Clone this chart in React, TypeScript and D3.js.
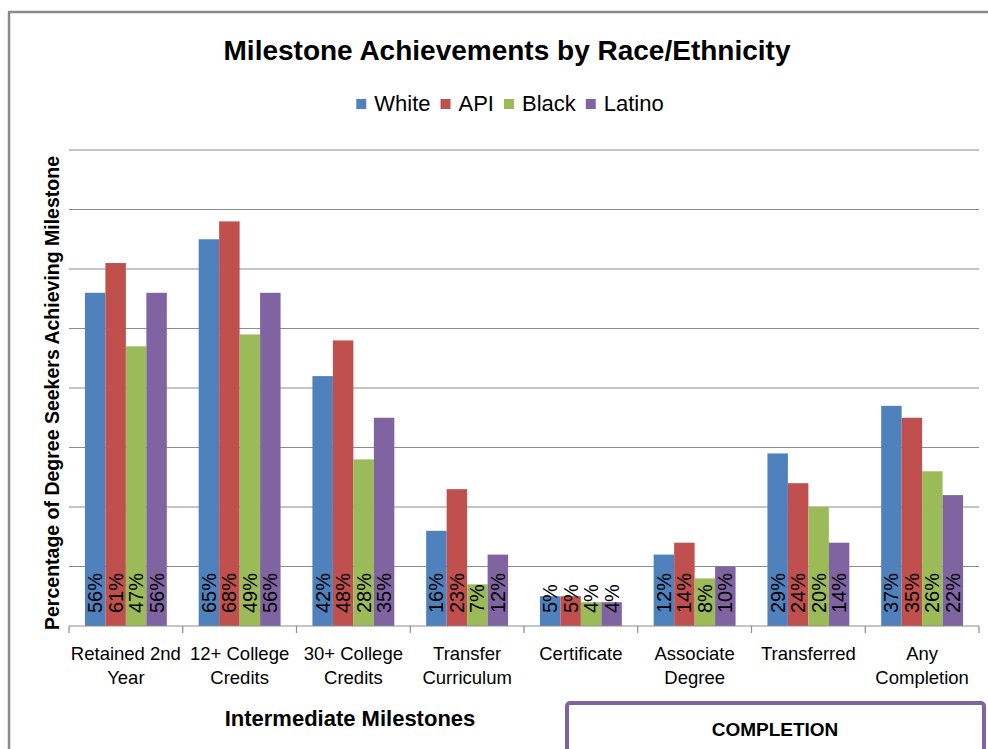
import React, { useEffect, useRef } from "react";
import * as d3 from "d3";

const categories: string[][] = [
  ["Retained 2nd", "Year"],
  ["12+ College", "Credits"],
  ["30+ College", "Credits"],
  ["Transfer", "Curriculum"],
  ["Certificate"],
  ["Associate", "Degree"],
  ["Transferred"],
  ["Any", "Completion"],
];
const seriesNames = ["White", "API", "Black", "Latino"];
const seriesColors = ["#4F81BD", "#C0504D", "#9BBB59", "#8064A2"];
const white = [56, 65, 42, 16, 5, 12, 29, 37];
const api = [61, 68, 48, 23, 5, 14, 24, 35];
const black = [47, 49, 28, 7, 4, 8, 20, 26];
const latino = [56, 56, 35, 12, 4, 10, 14, 22];
const seriesValues = [white, api, black, latino];
const yTicks = [0, 10, 20, 30, 40, 50, 60, 70, 80];

const W = 988;
const H = 749;
const FONT = "'Liberation Sans', Arial, sans-serif";

export default function App() {
  const ref = useRef<SVGSVGElement>(null);

  useEffect(() => {
    const svg = d3.select(ref.current);
    svg.selectAll("*").remove();

    const left = 69, right = 979, top = 150, bottom = 626;

    // outer border
    svg.append("line").attr("x1", 8).attr("x2", W).attr("y1", 12).attr("y2", 12)
      .attr("stroke", "#8a8a8a").attr("stroke-width", 2.5);
    svg.append("line").attr("x1", 9).attr("x2", 9).attr("y1", 12).attr("y2", H)
      .attr("stroke", "#8a8a8a").attr("stroke-width", 2.5);

    const catIdx = categories.map((_, i) => String(i));
    const x0 = d3.scaleBand().domain(catIdx).range([left, right]).paddingInner(0).paddingOuter(0);
    const bw = x0.bandwidth();
    const gap = bw * 0.28;
    const x1 = d3.scaleBand().domain(seriesNames).range([gap / 2, bw - gap / 2]).padding(0);
    const y = d3.scaleLinear().domain([0, 80]).range([bottom, top]);

    // gridlines
    svg.append("g").selectAll("line").data(yTicks.filter(t => t > 0)).join("line")
      .attr("x1", left).attr("x2", right)
      .attr("y1", d => y(d)).attr("y2", d => y(d))
      .attr("stroke", "#8c8c8c").attr("stroke-width", 1.2);

    // bars
    const g = svg.append("g");
    seriesNames.forEach((s, si) => {
      g.append("g").selectAll("rect").data(seriesValues[si]).join("rect")
        .attr("x", (_, i) => (x0(String(i)) as number) + (x1(s) as number))
        .attr("y", d => y(d))
        .attr("width", x1.bandwidth())
        .attr("height", d => y(0) - y(d))
        .attr("fill", seriesColors[si]);
    });

    // data labels
    seriesNames.forEach((s, si) => {
      g.append("g").selectAll("text").data(seriesValues[si]).join("text")
        .attr("transform", (_, i) => {
          const cx = (x0(String(i)) as number) + (x1(s) as number) + x1.bandwidth() / 2;
          return `translate(${cx},${y(0) - 13}) rotate(-90)`;
        })
        .attr("dominant-baseline", "central")
        .attr("text-anchor", "start")
        .attr("font-family", FONT)
        .attr("font-size", 20)
        .attr("fill", "#000")
        .text(d => `${d}%`);
    });

    // x axis line + ticks
    svg.append("line").attr("x1", left).attr("x2", right).attr("y1", bottom).attr("y2", bottom)
      .attr("stroke", "#8c8c8c").attr("stroke-width", 1.2);
    const tickPos = catIdx.map(c => x0(c) as number).concat([right]);
    svg.append("g").selectAll("line").data(tickPos).join("line")
      .attr("x1", d => d).attr("x2", d => d).attr("y1", bottom).attr("y2", bottom + 7)
      .attr("stroke", "#8c8c8c").attr("stroke-width", 1.2);

    // category labels
    const cl = svg.append("g").selectAll("text").data(categories).join("text")
      .attr("x", (_, i) => (x0(String(i)) as number) + bw / 2)
      .attr("y", 660)
      .attr("text-anchor", "middle")
      .attr("font-family", FONT)
      .attr("font-size", 18.5)
      .attr("fill", "#000");
    cl.selectAll("tspan").data(d => d).join("tspan")
      .attr("x", function () {
        return (this.parentNode as SVGTextElement).getAttribute("x");
      })
      .attr("dy", (_, j) => (j === 0 ? 0 : 24))
      .text(d => d);

    // title
    svg.append("text").attr("x", 507).attr("y", 60).attr("text-anchor", "middle")
      .attr("font-family", FONT).attr("font-weight", "bold").attr("font-size", 28)
      .text("Milestone Achievements by Race/Ethnicity");

    // legend
    const lg = svg.append("g");
    let lx = 0;
    seriesNames.forEach((s, si) => {
      lg.append("rect").attr("x", lx).attr("y", 99).attr("width", 10).attr("height", 10)
        .attr("fill", seriesColors[si]);
      const t = lg.append("text").attr("x", lx + 18).attr("y", 111)
        .attr("font-family", FONT).attr("font-size", 22).text(s);
      const tw = (t.node() as SVGTextElement).getComputedTextLength();
      lx += 18 + tw + 10;
    });
    const legW = lx - 10;
    lg.attr("transform", `translate(${510 - legW / 2},0)`);

    // y axis title
    svg.append("text")
      .attr("transform", `translate(59,393) rotate(-90)`)
      .attr("text-anchor", "middle")
      .attr("font-family", FONT).attr("font-weight", "bold").attr("font-size", 19.5)
      .text("Percentage of Degree Seekers Achieving Milestone");

    // x axis title
    svg.append("text").attr("x", 350).attr("y", 726).attr("text-anchor", "middle")
      .attr("font-family", FONT).attr("font-weight", "bold").attr("font-size", 22)
      .text("Intermediate Milestones");

    // completion box
    svg.append("rect").attr("x", 567).attr("y", 703).attr("width", 417).attr("height", 80)
      .attr("rx", 3).attr("fill", "none").attr("stroke", "#8064A2").attr("stroke-width", 4);
    svg.append("text").attr("x", 775).attr("y", 736).attr("text-anchor", "middle")
      .attr("font-family", FONT).attr("font-weight", "bold").attr("font-size", 19)
      .text("COMPLETION");
  }, []);

  return (
    <svg
      ref={ref}
      width={W}
      height={H}
      style={{ position: "absolute", left: 0, top: 0, background: "#fff" }}
    />
  );
}
